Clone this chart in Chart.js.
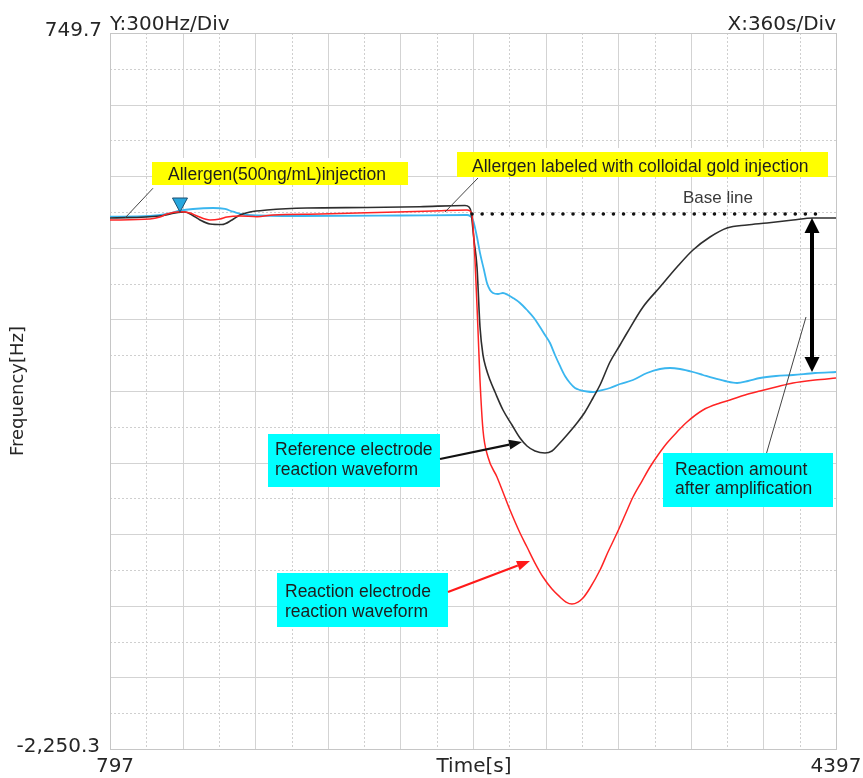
<!DOCTYPE html>
<html>
<head>
<meta charset="utf-8">
<script src="https://cdn.jsdelivr.net/npm/chart.js@4.4.1/dist/chart.umd.min.js"></script>
<style>
  html, body { margin: 0; padding: 0; background: #ffffff; }
  #wrap { width: 863px; height: 778px; }
</style>
</head>
<body>
<div id="wrap"><canvas id="c" width="863" height="778"></canvas></div>
<script>
// ---- Axis settings ----
const xRange = [797, 4397];          // s
const yRange = [-2250.3, 749.7];     // Hz
const xDiv = 360;                    // s per division
const yDiv = 300;                    // Hz per division
const xTickLabels = ['797', '4397'];
const yTickLabels = ['749.7', '-2,250.3'];
const xTitle = 'Time[s]';
const yTitle = 'Frequency[Hz]';
const yDivText = 'Y:300Hz/Div';
const xDivText = 'X:360s/Div';

// ---- Reference electrode (black) ----
const refTime = [797, 1044.9, 1119.3, 1168.9, 1203.6, 1243.3, 1292.9, 1352.4, 1402.0, 1441.6, 1491.2, 1575.5, 1773.9,
  2071.4, 2334.2, 2557.3, 2577.2, 2587.1, 2601.9, 2616.8, 2631.7, 2646.5, 2661.4, 2681.3, 2706.0, 2745.7, 2790.4,
  2830.1, 2864.8, 2904.4, 2954.0, 2988.7, 3018.5, 3063.1, 3112.7, 3152.4, 3192.0, 3226.8, 3276.3, 3326.0, 3360.7,
  3440.0, 3524.3, 3608.6, 3687.9, 3772.2, 3856.6, 3955.8, 4055.0, 4183.9, 4283.0, 4397];
const refFreq = [-25.4, -17.1, -4.5, -0.3, -12.9, -33.8, -50.6, -52.7, -33.8, -12.9, -0.3, 8.1, 16.5,
  18.6, 21.9, 26.9, 20.6, -0.3, -117.6, -230.7, -482.1, -599.4, -653.9, -704.2, -754.5, -829.9, -892.8,
  -947.3, -980.8, -1001.7, -1010.1, -1001.7, -976.6, -934.7, -884.4, -838.3, -779.6, -725.2, -628.8, -557.5, -507.3,
  -398.3, -314.5, -230.7, -159.5, -105.1, -67.3, -54.8, -46.4, -33.8, -25.4, -25.4];

// ---- Reaction electrode (red) ----
const reactTime = [797, 995.3, 1044.9, 1079.6, 1144.1, 1193.7, 1228.4, 1292.9, 1342.5, 1377.2, 1441.6, 1525.9, 1605.3,
  1838.3, 2071.4, 2398.7, 2567.3, 2582.1, 2592.0, 2606.9, 2621.7, 2631.7, 2646.5, 2671.3, 2715.9, 2780.5, 2830.1,
  2864.8, 2904.4, 2944.1, 2988.7, 3028.4, 3058.2, 3087.9, 3117.7, 3142.5, 3177.2, 3226.8, 3266.4, 3311.1, 3350.8,
  3390.4, 3435.0, 3474.7, 3514.4, 3559.0, 3608.6, 3658.2, 3737.5, 3821.8, 3871.4, 3945.9, 4020.3, 4099.6, 4183.9,
  4293.0, 4397];
const reactFreq = [-33.8, -29.6, -21.2, -8.7, 1.0, -4.5, -17.1, -33.8, -29.6, -21.2, -17.1, -20.0, -12.9,
  -8.7, -3.2, 3.9, 8.1, 3.9, -12.9, -201.4, -494.7, -704.2, -913.7, -1026.9, -1110.7, -1249.0, -1345.4,
  -1404.0, -1471.1, -1529.7, -1580.0, -1613.5, -1634.5, -1642.9, -1634.5, -1617.7, -1575.8, -1500.4, -1425.0, -1345.4, -1270.0,
  -1194.5, -1127.5, -1068.8, -1018.5, -968.2, -922.1, -880.2, -829.9, -800.6, -788.0, -767.1, -750.3, -733.6, -716.8,
  -704.2, -695.8];

// ---- Amplified difference (light blue) ----
const ampTime = [797, 995.3, 1079.6, 1144.1, 1208.6, 1307.7, 1367.2, 1406.9, 1476.3, 1739.2, 2235.0, 2567.3, 2582.1,
  2597.0, 2616.8, 2631.7, 2651.5, 2666.4, 2681.3, 2696.1, 2720.9, 2745.7, 2770.5, 2795.4, 2830.1, 2864.8, 2899.5,
  2929.2, 2954.0, 2978.8, 3003.6, 3028.4, 3053.2, 3078.0, 3102.8, 3127.6, 3162.3, 3192.0, 3226.8, 3276.3, 3326.0,
  3390.4, 3459.8, 3524.3, 3573.9, 3623.5, 3687.9, 3737.5, 3787.1, 3846.6, 3906.2, 3960.8, 4020.3, 4099.6, 4183.9,
  4293.0, 4397];
const ampFreq = [-20.0, -17.1, -8.7, 5.2, 12.3, 16.5, 12.3, 1.0, -12.9, -17.1, -15.0, -12.9, -17.1,
  -33.8, -105.1, -172.1, -243.3, -297.8, -327.1, -339.7, -343.9, -339.7, -348.1, -360.6, -381.6, -410.9, -444.4,
  -482.1, -515.6, -549.2, -599.4, -645.5, -687.5, -716.8, -737.8, -746.2, -752.4, -754.5, -748.3, -737.8, -721.0,
  -704.2, -674.9, -658.1, -653.9, -658.1, -670.7, -683.3, -695.8, -708.4, -716.8, -708.4, -695.8, -687.5, -683.3,
  -674.9, -670.7];

// ---- Base line ----
const baseTime = [2592, 4318];
const baseFreq = [-8.7, -8.7];

// Event times
const injection1 = 1144;
const injection2 = 2582;

const pts = (t, f) => t.map((v, i) => ({ x: v, y: f[i] }));

// Text boxes: top-left anchor in data units, size and text offsets in px
const boxes = [
  { t: 1005.3, f: 209.2, w: 256, h: 23, fill: '#ffff00', band: [11, 244], dx: 16, dy: [18],
    lines: ['Allergen(500ng/mL)injection'] },
  { t: 2517.7, f: 251.1, w: 371, h: 25, fill: '#ffff00', band: [30, 296], dx: 15, dy: [20],
    lines: ['Allergen labeled with colloidal gold injection'] },
  { t: 1580.5, f: -930.5, w: 172, h: 53, fill: '#00ffff', dx: 7, dy: [21, 41],
    lines: ['Reference electrode', 'reaction waveform'] },
  { t: 1625.1, f: -1512.9, w: 171, h: 54, fill: '#00ffff', dx: 8, dy: [24, 44],
    lines: ['Reaction electrode', 'reaction waveform'] },
  { t: 3539.2, f: -1010.1, w: 170, h: 54, fill: '#00ffff', dx: 12, dy: [22, 41],
    lines: ['Reaction amount', 'after amplification'] }
];

// Leader lines and arrows (data units)
const leaders = [
  { from: [1010.2, 99.3], to: [871.4, -25.4] },
  { from: [2621.8, 142.2], to: [2458.1, -0.3] },
  { from: [4049.9, -1018.5], to: [4248.3, -440.2] }
];
const pointers = [
  { from: [2433.4, -1035.2], to: [2840.0, -964.0], color: '#111111' },
  { from: [2473.0, -1592.5], to: [2879.6, -1462.5], color: '#ff1a1a' }
];
const amountArrow = { t: 4278, top: -25.4, bottom: -670.7 };
const baseLabel = { t: 3638.3, f: 37.4, text: 'Base line' };

function arrowHead(ctx, x1, y1, x2, y2, len, wid) {
  const a = Math.atan2(y2 - y1, x2 - x1);
  const bx = x2 - len * Math.cos(a), by = y2 - len * Math.sin(a);
  ctx.beginPath();
  ctx.moveTo(x2, y2);
  ctx.lineTo(bx + wid / 2 * Math.sin(a), by - wid / 2 * Math.cos(a));
  ctx.lineTo(bx - wid / 2 * Math.sin(a), by + wid / 2 * Math.cos(a));
  ctx.closePath();
  ctx.fill();
  return [bx, by];
}

const overlay = {
  id: 'overlay',
  beforeDatasetsDraw(chart) {
    const { ctx, chartArea: a, scales: { x, y } } = chart;
    ctx.save();
    ctx.lineWidth = 1;
    const nx = Math.round((xRange[1] - xRange[0]) / xDiv * 2);
    for (let i = 1; i < nx; i++) {
      const p = Math.round(x.getPixelForValue(xRange[0] + i * xDiv / 2)) + 0.5;
      const major = i % 2 === 0;
      ctx.setLineDash(major ? [] : [2, 2]);
      ctx.strokeStyle = major ? '#d3d3d3' : '#cfcfcf';
      ctx.beginPath(); ctx.moveTo(p, a.top); ctx.lineTo(p, a.bottom); ctx.stroke();
    }
    const ny = Math.round((yRange[1] - yRange[0]) / yDiv * 2);
    for (let i = 1; i < ny; i++) {
      const p = Math.round(y.getPixelForValue(yRange[0] + i * yDiv / 2)) + 0.5;
      const major = i % 2 === 0;
      ctx.setLineDash(major ? [] : [2, 2]);
      ctx.strokeStyle = major ? '#d3d3d3' : '#cfcfcf';
      ctx.beginPath(); ctx.moveTo(a.left, p); ctx.lineTo(a.right, p); ctx.stroke();
    }
    ctx.setLineDash([]);
    ctx.strokeStyle = '#c6c6c6';
    ctx.strokeRect(Math.round(a.left) + 0.5, Math.round(a.top) + 0.5,
      Math.round(a.right - a.left), Math.round(a.bottom - a.top));
    ctx.restore();
  },
  afterDatasetsDraw(chart) {
    const { ctx, scales: { x, y } } = chart;
    ctx.save();

    // leader lines
    ctx.strokeStyle = '#444444';
    ctx.lineWidth = 1;
    leaders.forEach(l => {
      ctx.beginPath();
      ctx.moveTo(x.getPixelForValue(l.from[0]), y.getPixelForValue(l.from[1]));
      ctx.lineTo(x.getPixelForValue(l.to[0]), y.getPixelForValue(l.to[1]));
      ctx.stroke();
    });

    // text boxes
    ctx.font = '17.5px "Liberation Sans", Arial, sans-serif';
    ctx.textAlign = 'left';
    ctx.textBaseline = 'alphabetic';
    boxes.forEach(b => {
      const bx = Math.round(x.getPixelForValue(b.t));
      const by = Math.round(y.getPixelForValue(b.f));
      if (b.band) {
        ctx.fillStyle = '#ffffff';
        ctx.fillRect(bx + b.band[0], by - 4, b.band[1], 4);
      }
      ctx.fillStyle = b.fill;
      ctx.fillRect(bx, by, b.w, b.h);
      ctx.fillStyle = '#1e1e1e';
      b.lines.forEach((s, i) => ctx.fillText(s, bx + b.dx, by + b.dy[i]));
    });

    // pointer arrows
    pointers.forEach(p => {
      const x1 = x.getPixelForValue(p.from[0]), y1 = y.getPixelForValue(p.from[1]);
      const x2 = x.getPixelForValue(p.to[0]), y2 = y.getPixelForValue(p.to[1]);
      ctx.fillStyle = p.color;
      ctx.strokeStyle = p.color;
      ctx.lineWidth = 2.2;
      const [hx, hy] = arrowHead(ctx, x1, y1, x2, y2, 13, 10);
      ctx.beginPath(); ctx.moveTo(x1, y1); ctx.lineTo(hx, hy); ctx.stroke();
    });

    // reaction amount double arrow
    const ax = x.getPixelForValue(amountArrow.t);
    const ay1 = y.getPixelForValue(amountArrow.top);
    const ay2 = y.getPixelForValue(amountArrow.bottom);
    ctx.fillStyle = '#000000';
    ctx.strokeStyle = '#000000';
    ctx.lineWidth = 4;
    arrowHead(ctx, ax, ay2, ax, ay1, 15, 15);
    arrowHead(ctx, ax, ay1, ax, ay2, 15, 15);
    ctx.beginPath(); ctx.moveTo(ax, ay1 + 13); ctx.lineTo(ax, ay2 - 13); ctx.stroke();

    // injection marker
    const mx = x.getPixelForValue(injection1);
    const my = y.getPixelForValue(-0.3);
    ctx.fillStyle = '#27a7de';
    ctx.strokeStyle = '#1c4f70';
    ctx.lineWidth = 1;
    ctx.beginPath();
    ctx.moveTo(mx, my); ctx.lineTo(mx - 7.5, my - 14); ctx.lineTo(mx + 7.5, my - 14); ctx.closePath();
    ctx.fill(); ctx.stroke();

    // base line label
    ctx.fillStyle = '#3a3a3a';
    ctx.font = '17px "Liberation Sans", Arial, sans-serif';
    ctx.fillText(baseLabel.text, x.getPixelForValue(baseLabel.t), y.getPixelForValue(baseLabel.f));
    ctx.restore();
  },
  afterDraw(chart) {
    const { ctx, chartArea: a } = chart;
    ctx.save();
    ctx.fillStyle = '#262626';
    ctx.font = '20px "DejaVu Sans", sans-serif';
    ctx.textBaseline = 'middle';
    ctx.textAlign = 'right';
    ctx.fillText(yTickLabels[0], a.left - 8, a.top - 2);
    ctx.fillText(yTickLabels[1], a.left - 10, a.bottom - 2);
    ctx.textAlign = 'center';
    ctx.fillText(xTickLabels[0], a.left + 5, a.bottom + 18);
    ctx.fillText(xTickLabels[1], a.right, a.bottom + 18);
    ctx.fillText(xTitle, (a.left + a.right) / 2 + 1, a.bottom + 18);
    ctx.textBaseline = 'alphabetic';
    ctx.textAlign = 'left';
    ctx.fillText(yDivText, a.left, a.top - 3);
    ctx.textAlign = 'right';
    ctx.fillText(xDivText, a.right, a.top - 3);
    ctx.font = '18px "DejaVu Sans", sans-serif';
    ctx.translate(18, (a.top + a.bottom) / 2);
    ctx.rotate(-Math.PI / 2);
    ctx.textAlign = 'center';
    ctx.textBaseline = 'middle';
    ctx.fillText(yTitle, 0, 0);
    ctx.restore();
  }
};

new Chart(document.getElementById('c'), {
  type: 'line',
  data: {
    datasets: [
      { label: 'Base line', data: pts(baseTime, baseFreq), borderColor: '#111111', borderWidth: 3.5,
        borderDash: [0.1, 10], borderCapStyle: 'round', pointRadius: 0, tension: 0 },
      { label: 'Reaction electrode', data: pts(reactTime, reactFreq), borderColor: '#ff2424', borderWidth: 1.5,
        pointRadius: 0, cubicInterpolationMode: 'monotone' },
      { label: 'Reference electrode', data: pts(refTime, refFreq), borderColor: '#2e2e2e', borderWidth: 1.6,
        pointRadius: 0, cubicInterpolationMode: 'monotone' },
      { label: 'Amplified', data: pts(ampTime, ampFreq), borderColor: '#3ab6ef', borderWidth: 1.8,
        pointRadius: 0, cubicInterpolationMode: 'monotone' }
    ]
  },
  options: {
    responsive: false,
    animation: false,
    devicePixelRatio: 1,
    layout: { padding: { left: 110, top: 33, right: 27, bottom: 29 } },
    scales: {
      x: { type: 'linear', min: xRange[0], max: xRange[1], display: false },
      y: { type: 'linear', min: yRange[0], max: yRange[1], display: false }
    },
    plugins: { legend: { display: false }, tooltip: { enabled: false } },
    elements: { point: { radius: 0 } }
  },
  plugins: [overlay]
});
</script>
</body>
</html>
